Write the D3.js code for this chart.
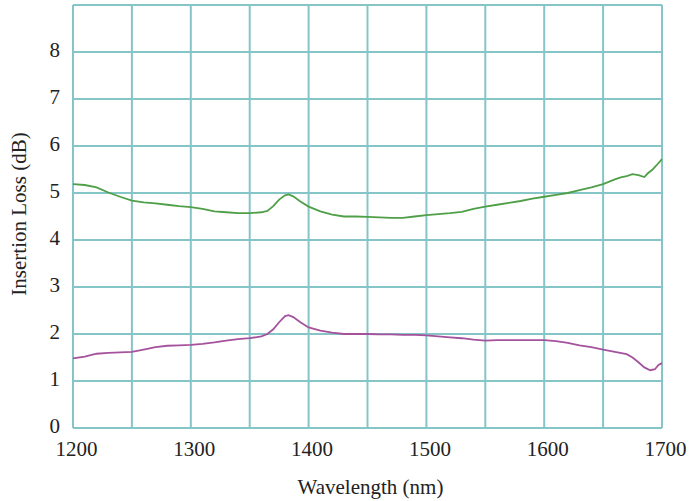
<!DOCTYPE html>
<html>
<head>
<meta charset="utf-8">
<script src="https://cdn.jsdelivr.net/npm/d3@7"></script>
<style>
  body { margin: 0; background: #fff; }
  svg { display: block; }
  text { font-family: "Liberation Serif", "DejaVu Serif", serif; }
</style>
</head>
<body>
<svg width="691" height="501"></svg>
<script>
// wavelength samples (nm) and insertion loss (dB)
var greenWl = [1200,1210,1220,1230,1240,1250,1260,1270,1280,1290,1300,1310,1320,1330,1340,1350,1360,1365,1370,1375,1380,1383,1387,1393,1400,1410,1420,1430,1440,1450,1460,1470,1480,1490,1500,1510,1520,1530,1540,1550,1560,1570,1580,1590,1600,1610,1620,1630,1640,1650,1660,1665,1670,1675,1680,1685,1688,1692,1695,1700];
var greenLoss = [5.19,5.17,5.12,5.01,4.92,4.84,4.80,4.78,4.75,4.72,4.70,4.66,4.61,4.59,4.57,4.57,4.59,4.62,4.72,4.86,4.95,4.97,4.93,4.82,4.71,4.61,4.54,4.50,4.50,4.49,4.48,4.47,4.47,4.50,4.53,4.55,4.57,4.60,4.66,4.71,4.75,4.79,4.83,4.88,4.92,4.96,5.00,5.06,5.12,5.19,5.29,5.33,5.36,5.40,5.38,5.34,5.42,5.50,5.58,5.72];

var pinkWl = [1200,1210,1220,1230,1240,1250,1260,1270,1280,1290,1300,1310,1320,1330,1340,1350,1360,1365,1370,1375,1380,1383,1387,1393,1400,1410,1420,1430,1440,1450,1460,1470,1480,1490,1500,1510,1520,1530,1540,1550,1560,1570,1580,1590,1600,1610,1620,1630,1640,1650,1660,1670,1675,1680,1685,1690,1694,1697,1700];
var pinkLoss = [1.48,1.52,1.58,1.60,1.61,1.62,1.67,1.72,1.75,1.76,1.77,1.79,1.82,1.86,1.89,1.91,1.95,2.00,2.10,2.25,2.38,2.40,2.36,2.25,2.14,2.07,2.03,2.00,2.00,2.00,1.99,1.99,1.98,1.98,1.97,1.95,1.93,1.91,1.88,1.86,1.87,1.87,1.87,1.87,1.87,1.85,1.81,1.76,1.72,1.67,1.62,1.57,1.50,1.40,1.29,1.23,1.25,1.34,1.38];

var xTicks = [1200,1300,1400,1500,1600,1700];
var xGrid = [1200,1250,1300,1350,1400,1450,1500,1550,1600,1650,1700];
var yTicks = [0,1,2,3,4,5,6,7,8];
var yGrid = [0,1,2,3,4,5,6,7,8,9];

var svg = d3.select("svg");
var margin = {top:5, right:29, bottom:73, left:73};
var w = 691 - margin.left - margin.right;
var h = 501 - margin.top - margin.bottom;

var gridColor = "#86c5c7";
var serif = "Liberation Serif, DejaVu Serif, serif";

var x = d3.scaleLinear().domain([1200, 1700]).range([0, w]);
var y = d3.scaleLinear().domain([0, 9]).range([h, 0]);

var g = svg.append("g")
    .attr("transform", "translate(" + margin.left + "," + margin.top + ")");

// grid
g.append("g").selectAll("line").data(xGrid).enter()
    .append("line")
    .attr("x1", function(d) { return x(d); })
    .attr("x2", function(d) { return x(d); })
    .attr("y1", 0).attr("y2", h)
    .attr("stroke", gridColor).attr("stroke-width", 2);

g.append("g").selectAll("line").data(yGrid).enter()
    .append("line")
    .attr("y1", function(d) { return y(d); })
    .attr("y2", function(d) { return y(d); })
    .attr("x1", 0).attr("x2", w)
    .attr("stroke", gridColor).attr("stroke-width", 2);

// tick labels
var xAxis = g.append("g")
    .attr("transform", "translate(3," + h + ")")
    .call(d3.axisBottom(x).tickValues(xTicks).tickFormat(d3.format("d")).tickSize(0).tickPadding(13))
    .attr("font-family", serif)
    .attr("font-size", 21);
xAxis.select(".domain").remove();
xAxis.selectAll("text").attr("fill", "#222");

var yAxis = g.append("g")
    .attr("transform", "translate(0,-2)")
    .call(d3.axisLeft(y).tickValues(yTicks).tickFormat(d3.format("d")).tickSize(0).tickPadding(13))
    .attr("font-family", serif)
    .attr("font-size", 21);
yAxis.select(".domain").remove();
yAxis.selectAll("text").attr("fill", "#222");

// curves
var line = d3.line()
    .x(function(d) { return x(d[0]); })
    .y(function(d) { return y(d[1]); });

g.append("path")
    .datum(d3.zip(greenWl, greenLoss))
    .attr("d", line)
    .attr("fill", "none")
    .attr("stroke", "#4f9f48")
    .attr("stroke-width", 1.8);

g.append("path")
    .datum(d3.zip(pinkWl, pinkLoss))
    .attr("d", line)
    .attr("fill", "none")
    .attr("stroke", "#a5529d")
    .attr("stroke-width", 1.8);

// axis titles
svg.append("text")
    .attr("x", margin.left + w / 2 + 3)
    .attr("y", 494)
    .attr("text-anchor", "middle")
    .attr("fill", "#222")
    .attr("font-family", serif)
    .attr("font-size", 21)
    .text("Wavelength (nm)");

svg.append("text")
    .attr("transform", "translate(26," + 214 + ") rotate(-90)")
    .attr("text-anchor", "middle")
    .attr("fill", "#222")
    .attr("font-family", serif)
    .attr("font-size", 21)
    .text("Insertion Loss (dB)");
</script>
</body>
</html>
